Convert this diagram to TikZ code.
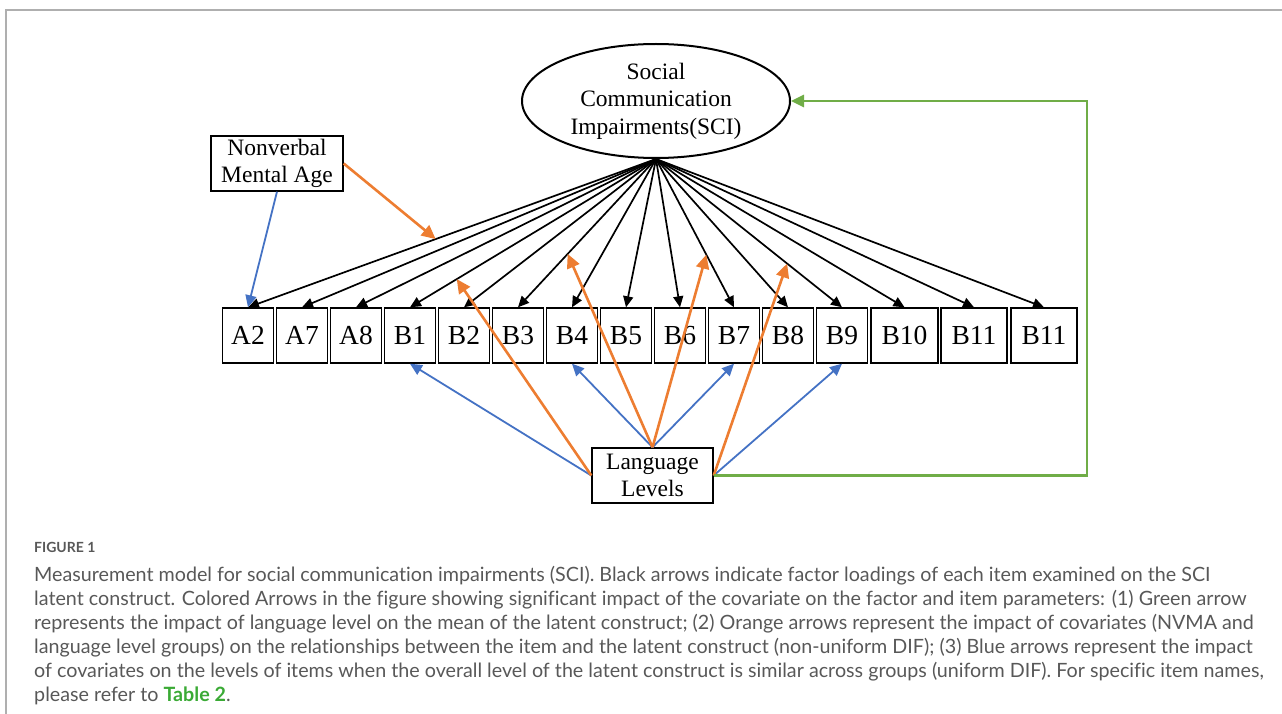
\documentclass[tikz,border=0pt]{standalone}
\usepackage{fontspec}
\setmainfont{Liberation Serif}
\newfontfamily\capfont[Ligatures={NoCommon,NoRare,NoDiscretionary}]{Lato}
\usetikzlibrary{shapes.geometric,arrows.meta,calc}
\definecolor{ornge}{RGB}{237,125,49}
\definecolor{blu}{RGB}{68,114,196}
\definecolor{grn}{RGB}{112,173,71}
\definecolor{capgray}{RGB}{88,88,88}
\definecolor{tblgreen}{RGB}{58,170,53}
\definecolor{framegray}{RGB}{175,175,175}
\begin{document}
\begin{tikzpicture}[x=1pt,y=-1pt,
  item/.style={draw,line width=1.4pt,minimum height=55pt,minimum width=51pt,inner sep=0pt,font=\fontsize{27.5}{30}\selectfont},
  obs/.style={draw,line width=1.4pt,minimum height=55pt,inner sep=0pt,align=center,font=\fontsize{23.5}{27}\selectfont},
  load/.style={line width=1.7pt,-{Triangle[length=11pt,width=10pt]}},
  orng/.style={ornge,line width=2.6pt,-{Triangle[length=14pt,width=13pt]}},
  blue/.style={blu,line width=1.8pt,-{Triangle[length=12pt,width=11pt]}},
  grnarrow/.style={grn,line width=2.6pt,-{Triangle[length=13pt,width=12pt]}},
  capline/.style={anchor=base west,inner sep=0pt,text=capgray,font=\capfont\fontsize{19.7}{24}\selectfont}]
\useasboundingbox (0,0) rectangle (1282,714);
% frame
\draw[framegray,line width=1.5pt] (6,714) -- (6,10) -- (1282,10);
% latent
\node[draw,ellipse,line width=2pt,minimum width=268pt,minimum height=114pt,inner sep=0pt,align=center,font=\fontsize{23.5}{27.5}\selectfont] (sci) at (656,101) {Social\\Communication\\Impairments(SCI)};
% covariates
\node[obs,minimum width=132pt] (nvma) at (277,163.5) {Nonverbal\\Mental Age};
\node[obs,minimum width=121pt] (ll) at (652.5,475.5) {Language\\Levels};
% items
\node[item] (A2) at (248,335.5) {A2};
\node[item] (A7) at (302,335.5) {A7};
\node[item] (A8) at (356,335.5) {A8};
\node[item] (B1) at (410,335.5) {B1};
\node[item] (B2) at (464,335.5) {B2};
\node[item] (B3) at (518,335.5) {B3};
\node[item] (B4) at (572,335.5) {B4};
\node[item] (B5) at (626,335.5) {B5};
\node[item] (B6) at (680,335.5) {B6};
\node[item] (B7) at (734,335.5) {B7};
\node[item] (B8) at (788,335.5) {B8};
\node[item] (B9) at (842,335.5) {B9};
\node[item,minimum width=67pt] (B10) at (904.5,335.5) {B10};
\node[item,minimum width=66pt] (B11a) at (974,335.5) {B11};
\node[item,minimum width=66pt] (B11b) at (1044,335.5) {B11};
% loadings
\foreach \n in {A2,A7,A8,B1,B2,B3,B4,B5,B6,B7,B8,B9,B10,B11a,B11b}
  \draw[load] (sci.south) -- (\n.north);
% points on loadings
\coordinate (pA2) at ($(sci.south)!0.54!(A2.north)$);
\coordinate (pB1) at ($(sci.south)!0.81!(B1.north)$);
\coordinate (pB3) at ($(sci.south)!0.64!(B3.north)$);
\coordinate (pB7) at ($(sci.south)!0.645!(B7.north)$);
\coordinate (pB9) at ($(sci.south)!0.705!(B9.north)$);
% blue arrows
\draw[blue] (nvma.south) -- (A2.north);
\draw[blue] (ll.west) -- (B1.south);
\draw[blue] (ll.north) -- (B4.south);
\draw[blue] (ll.north) -- (B7.south);
\draw[blue] (ll.east) -- (B9.south);
% orange arrows
\draw[orng] (nvma.east) -- (pA2);
\draw[orng] (ll.west) -- (pB1);
\draw[orng] (ll.north) -- (pB3);
\draw[orng] (ll.north) -- (pB7);
\draw[orng] (ll.east) -- (pB9);
% green arrow
\coordinate (gc) at (1087,475.5);
\draw[grnarrow] (ll.east) -- (gc) |- (sci.east);
% caption
\node[capline,font=\capfont\bfseries\fontsize{14}{16}\selectfont] (fig) at (34,552) {FIGURE 1};
\node[capline] (c1) at (34,581) {Measurement model for social communication impairments (SCI). Black arrows indicate factor loadings of each item examined on the SCI};
\node[capline] (c2) at (34,605) {latent construct. Colored Arrows in the figure showing significant impact of the covariate on the factor and item parameters: (1) Green arrow};
\node[capline] (c3) at (34,629) {represents the impact of language level on the mean of the latent construct; (2) Orange arrows represent the impact of covariates (NVMA and};
\node[capline] (c4) at (34,653) {language level groups) on the relationships between the item and the latent construct (non-uniform DIF); (3) Blue arrows represent the impact};
\node[capline] (c5) at (34,677) {of covariates on the levels of items when the overall level of the latent construct is similar across groups (uniform DIF). For specific item names,};
\node[capline] (c6) at (34,701) {please refer to \textcolor{tblgreen}{\bfseries Table 2}.};
\end{tikzpicture}
\end{document}
